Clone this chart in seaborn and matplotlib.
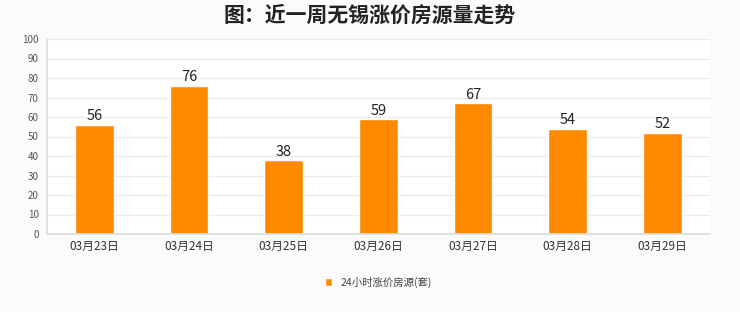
import matplotlib
matplotlib.use("Agg")
import matplotlib.pyplot as plt
import seaborn as sns
import pandas as pd

dates = ["03月23日", "03月24日", "03月25日", "03月26日", "03月27日", "03月28日", "03月29日"]
values = [56, 76, 38, 59, 67, 54, 52]
series_name = "24小时涨价房源(套)"
title = "图：近一周无锡涨价房源量走势"

sns.set_theme(style="white")
plt.rcParams['font.family'] = ['Noto Sans CJK SC', 'DejaVu Sans']

df = pd.DataFrame({"date": dates, "value": values})

fig = plt.figure(figsize=(7.4, 3.12), dpi=100)
fig.patch.set_facecolor("#fbfbfb")
ax = fig.add_axes([0.0635, 0.25, 0.8955, 0.625])
ax.set_facecolor("white")

color = "#FF8A00"
sns.barplot(data=df, x="date", y="value", color=color, width=0.41, ax=ax,
            saturation=1, label=series_name)

ax.set_ylim(0, 100)
ax.set_yticks(range(0, 101, 10))
ax.yaxis.grid(True, color="#ebebeb", linewidth=0.8)
ax.set_axisbelow(True)
for s in ["top", "right"]:
    ax.spines[s].set_visible(False)
ax.spines["left"].set_color("#dddddd")
ax.spines["bottom"].set_color("#dddddd")
ax.set_xlabel("")
ax.set_ylabel("")
ax.tick_params(axis="y", labelsize=7, colors="#555555", length=0, pad=6)
ax.tick_params(axis="x", labelsize=8.5, colors="#333333", length=0, pad=4)
ax.set_xlim(-0.5, len(dates) - 0.5)

for c in ax.containers:
    ax.bar_label(c, labels=[str(v) for v in values], fontsize=10.5, color="#222222", padding=1)

leg = ax.legend(loc="upper center", bbox_to_anchor=(0.5, -0.17), frameon=False,
                fontsize=7.5, handlelength=0.7, handleheight=0.7, handletextpad=0.8)
for t in leg.get_texts():
    t.set_color("#444444")

fig.text(0.5, 0.95, title, ha="center", va="center", fontsize=15, fontweight="bold", color="#222222")

fig.savefig("out.png", dpi=100, facecolor=fig.get_facecolor())
